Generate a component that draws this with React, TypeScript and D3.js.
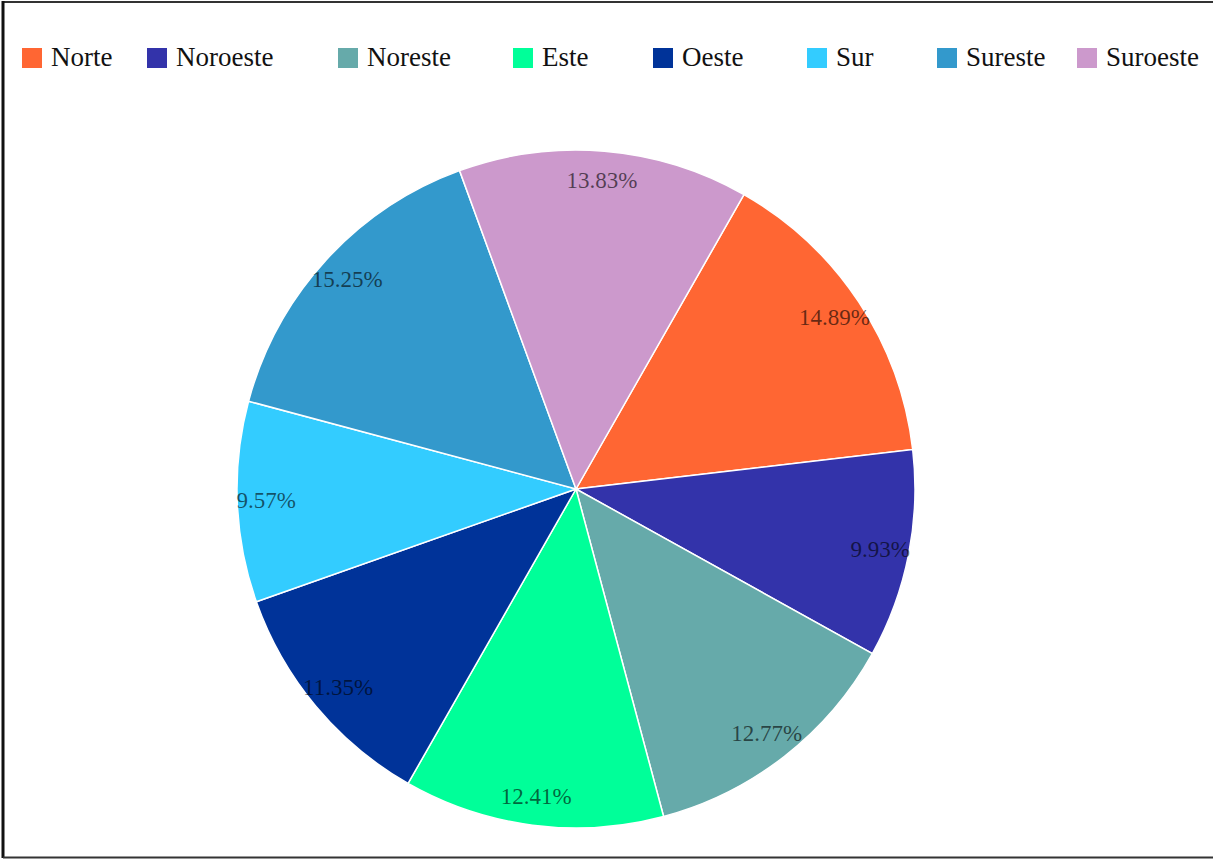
import React, { useEffect } from "react";
import * as d3 from "d3";

const categories = ["Norte", "Noroeste", "Noreste", "Este", "Oeste", "Sur", "Sureste", "Suroeste"];
const percentages = [14.89, 9.93, 12.77, 12.41, 11.35, 9.57, 15.25, 13.83];
const colors = ["#FF6633", "#3333AA", "#66AAAA", "#00FF99", "#003399", "#33CCFF", "#3399CC", "#CC99CC"];
const legendX = [22, 147, 338, 513, 653, 807, 937, 1077];

const W = 1213;
const H = 859;
const CX = 576;
const CY = 489;
const R = 339;
const LABEL_R = 310;
const START = (29.7 * Math.PI) / 180;
const FONT = "Liberation Serif, DejaVu Serif, Times New Roman, serif";

export default function App() {
  useEffect(() => {
    document.body.style.margin = "0";
  }, []);

  const pie = d3
    .pie<number>()
    .sort(null)
    .value((d) => d)
    .startAngle(START)
    .endAngle(START + 2 * Math.PI);
  const arcs = pie(percentages);
  const arc = d3.arc<d3.PieArcDatum<number>>().innerRadius(0).outerRadius(R);
  const labelArc = d3.arc<d3.PieArcDatum<number>>().innerRadius(LABEL_R).outerRadius(LABEL_R);

  return (
    <svg width={W} height={H} style={{ display: "block", background: "#fff", fontFamily: FONT }}>
      <rect x={0} y={0} width={W} height={H} fill="#fff" />
      <line x1={3} y1={2} x2={W} y2={2} stroke="#333" strokeWidth={2} />
      <line x1={3} y1={1} x2={3} y2={858} stroke="#111" strokeWidth={3} />
      <line x1={3} y1={857.5} x2={W} y2={857.5} stroke="#333" strokeWidth={2} />
      <g>
        {categories.map((c, i) => (
          <g key={c} transform={`translate(${legendX[i]},48)`}>
            <rect x={0} y={0} width={20} height={20} fill={colors[i]} />
            <text x={29} y={18} fontSize={27} fill="#111" style={{ fontFamily: FONT }}>
              {c}
            </text>
          </g>
        ))}
      </g>
      <g transform={`translate(${CX},${CY})`}>
        {arcs.map((a, i) => (
          <path key={categories[i]} d={arc(a) || ""} fill={colors[i]} stroke="#fff" strokeWidth={1.5} />
        ))}
        {arcs.map((a, i) => {
          const [x, y] = labelArc.centroid(a);
          return (
            <text
              key={"l" + categories[i]}
              x={x}
              y={y}
              textAnchor="middle"
              dominantBaseline="central"
              fontSize={23}
              fill="#000"
              fillOpacity={0.6}
              style={{ fontFamily: FONT }}
            >
              {percentages[i].toFixed(2)}%
            </text>
          );
        })}
      </g>
    </svg>
  );
}
